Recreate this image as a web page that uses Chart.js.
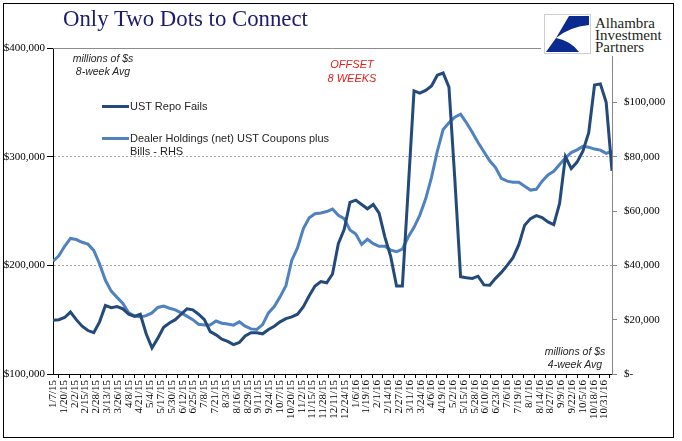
<!DOCTYPE html>
<html>
<head>
<meta charset="utf-8">
<script src="https://cdn.jsdelivr.net/npm/chart.js@4.4.0/dist/chart.umd.min.js"></script>
<style>
  body { margin: 0; background: #fff; }
  #wrap { position: relative; width: 682px; height: 441px; overflow: hidden; background: #fff; }
  canvas { position: absolute; left: 0; top: 0; }
  #frame { position: absolute; left: 3px; top: 3px; width: 669px; height: 433px; border: 1px solid #000; pointer-events: none; }
  .t { position: absolute; white-space: nowrap; }
  #title { left: 63px; top: 8px; font: 22.8px/22px "Liberation Serif", serif; color: #1b1b6f; }
  #logo { left: 541px; top: 11px; width: 131px; height: 45px; background: #fff; }
  #logoBox { position: absolute; left: 3px; top: 3px; width: 45px; height: 38px; border: 1px solid #cfcfcf; }
  #logoText { position: absolute; left: 54px; top: 6px; font: 15px/12px "Liberation Serif", serif; color: #231f20; }
  .note { font: italic 10.5px/13px "Liberation Sans", sans-serif; color: #262626; text-align: center; }
  #offset { font: italic 11px/14px "Liberation Sans", sans-serif; color: #e0201b; text-align: center; }
  .leg { font: 11px/13px "Liberation Sans", sans-serif; color: #1f1f1f; }
  .swatch { position: absolute; width: 27px; height: 3px; }
</style>
</head>
<body>
<div id="wrap">
  <canvas id="c" width="682" height="441"></canvas>
  <div class="t" id="title">Only Two Dots to Connect</div>
  <div class="t note" style="left:63px; top:52px; width:80px;">millions of $s<br>8-week Avg</div>
  <div class="t" id="offset" style="left:312px; top:57px; width:80px;">OFFSET<br>8 WEEKS</div>
  <div class="t note" style="left:535px; top:345px; width:80px;">millions of $s<br>4-week Avg</div>
  <div class="swatch" id="sw1" style="left:102px; top:105px;"></div>
  <div class="t leg" style="left:130px; top:100px;">UST Repo Fails</div>
  <div class="swatch" id="sw2" style="left:102px; top:137px;"></div>
  <div class="t leg" style="left:130px; top:132px;">Dealer Holdings (net) UST Coupons plus<br>Bills - RHS</div>
  <div class="t" id="logo">
    <div id="logoBox">
      <svg width="45" height="38" viewBox="0 0 45 38">
        <path d="M24,1 L44,1 L44,10 Q24,12 11,23 Z" fill="#0b2a8f"/>
        <path d="M11,23 Q26,26 34,37 L1,37 Z" fill="#0b2a8f"/>
      </svg>
    </div>
    <div id="logoText">Alhambra<br>Investment<br>Partners</div>
  </div>
  <div id="frame"></div>
</div>
<script>
// weekly series, first point 1/7/15
const repoFails = [149500,150000,152000,157000,150000,144000,140000,138000,148000,163000,
  161000,162000,160000,155000,153000,155000,137000,124000,133000,143000,
  147000,150000,155000,160000,159000,155000,150000,139000,136000,132000,
  130000,127000,129000,135000,138000,138000,137000,141000,144000,148000,
  151000,152600,155000,162000,172000,181000,185000,184000,192000,220000,
  233000,258000,260000,256000,252000,256000,248000,226000,208000,181000,
  181000,270000,360600,358500,361000,365000,375000,377000,364000,280000,
  189500,188500,188000,190000,182000,181700,188000,193500,200000,207000,
  219000,237000,243000,245700,244000,240000,237500,257000,300000,289000,
  295000,305000,322000,366000,367000,350000,287000];

const dealerHoldings = [41500,43500,47000,49900,49500,48500,47800,45500,40500,34500,
  30500,28200,26000,22500,21400,21000,21500,22500,24500,25000,
  24200,23600,22500,21300,20000,18300,18000,18000,19500,18700,
  18400,18000,19200,17600,16600,16400,18200,22500,24800,28400,
  32500,41800,46500,53500,57500,59000,59300,59800,60700,58400,
  57200,53000,51500,47700,49600,48000,47000,47000,45600,45000,
  46000,50400,54000,58500,64500,72400,82000,90000,92500,94500,
  95600,92500,89000,85200,81800,78500,76000,72000,71000,70600,
  70600,69100,67700,68000,71000,73300,74600,77100,79500,81500,
  82500,83800,83500,82800,82400,81200,82000];

const tickLabels = ["1/7/15","1/20/15","2/2/15","2/15/15","2/28/15","3/13/15","3/26/15","4/8/15",
  "4/21/15","5/4/15","5/17/15","5/30/15","6/12/15","6/25/15","7/8/15","7/21/15","8/3/15","8/16/15",
  "8/29/15","9/11/15","9/24/15","10/7/15","10/20/15","11/2/15","11/15/15","11/28/15","12/11/15",
  "12/24/15","1/6/16","1/19/16","2/1/16","2/14/16","2/27/16","3/11/16","3/24/16","4/6/16","4/19/16",
  "5/2/16","5/15/16","5/28/16","6/10/16","6/23/16","7/6/16","7/19/16","8/1/16","8/14/16","8/27/16",
  "9/9/16","9/22/16","10/5/16","10/18/16","10/31/16"];

const leftTicks = [100000, 200000, 300000, 400000];
const rightTicks = [0, 20000, 40000, 60000, 80000, 100000, 120000];

const darkBlue = "#234a7a";
const lightBlue = "#4f82be";
document.getElementById("sw1").style.background = darkBlue;
document.getElementById("sw2").style.background = lightBlue;

// x is days since 1/7/15; labels every 13 days, tick marks between them
const lastDay = (repoFails.length - 1) * 7;
const labelAt = new Map(tickLabels.map((t, i) => [i * 13, t]));
const xTicks = [];
tickLabels.forEach((t, i) => {
  if (i * 13 - 6.5 >= 0) xTicks.push(i * 13 - 6.5);
  xTicks.push(i * 13);
});
if (tickLabels.length * 13 - 6.5 <= lastDay) xTicks.push(tickLabels.length * 13 - 6.5);

const money = v => "$" + v.toLocaleString("en-US");

const topLine = {
  id: "topLine",
  beforeDatasetsDraw(chart) {
    const { ctx, chartArea } = chart;
    const y = Math.round(chart.scales.y.getPixelForValue(400000)) + 0.5;
    ctx.save();
    ctx.strokeStyle = "#8c8c8c";
    ctx.lineWidth = 1;
    ctx.beginPath();
    ctx.moveTo(chartArea.left, y);
    ctx.lineTo(chartArea.right, y);
    ctx.stroke();
    ctx.restore();
  }
};

new Chart(document.getElementById("c"), {
  type: "line",
  data: {
    datasets: [
      {
        label: "UST Repo Fails",
        data: repoFails.map((v, i) => ({ x: i * 7, y: v })),
        yAxisID: "y",
        borderColor: darkBlue,
        borderWidth: 3,
        pointRadius: 0,
        tension: 0
      },
      {
        label: "Dealer Holdings (net) UST Coupons plus Bills - RHS",
        data: dealerHoldings.map((v, i) => ({ x: i * 7, y: v })),
        yAxisID: "y1",
        borderColor: lightBlue,
        borderWidth: 3,
        pointRadius: 0,
        tension: 0
      }
    ]
  },
  options: {
    responsive: false,
    animation: false,
    devicePixelRatio: 1,
    layout: { padding: { top: 48, left: 0, right: 0, bottom: 0 } },
    plugins: { legend: { display: false }, tooltip: { enabled: false } },
    scales: {
      x: {
        type: "linear",
        min: 0,
        max: lastDay,
        afterBuildTicks: s => { s.ticks = xTicks.map(v => ({ value: v })); },
        afterFit: s => { s.height = 441 - 374; },
        ticks: {
          autoSkip: false,
          minRotation: 90,
          maxRotation: 90,
          padding: 2,
          color: "#000",
          font: { family: "Liberation Serif", size: 11 },
          callback: v => labelAt.has(v) ? labelAt.get(v) : ""
        },
        grid: {
          drawOnChartArea: false,
          tickLength: 4,
          tickColor: c => (c.tick && labelAt.has(c.tick.value)) ? "rgba(0,0,0,0)" : "#000"
        },
        border: { color: "#000" }
      },
      y: {
        type: "linear",
        position: "left",
        min: leftTicks[0],
        max: leftTicks[leftTicks.length - 1],
        afterBuildTicks: s => { s.ticks = leftTicks.map(v => ({ value: v })); },
        afterFit: s => { s.width = 53; },
        ticks: {
          padding: 2,
          color: "#000",
          font: { family: "Liberation Serif", size: 11 },
          callback: v => money(v)
        },
        grid: {
          color: c => (c.tick && c.tick.value > leftTicks[0] && c.tick.value < leftTicks[leftTicks.length - 1]) ? "#a8a8a8" : "rgba(0,0,0,0)",
          tickColor: "#000",
          tickLength: 6
        },
        border: { color: "#000", dash: [2, 2] }
      },
      y1: {
        type: "linear",
        position: "right",
        min: rightTicks[0],
        max: rightTicks[rightTicks.length - 1],
        afterBuildTicks: s => { s.ticks = rightTicks.map(v => ({ value: v })); },
        afterFit: s => { s.width = 682 - 612; },
        ticks: {
          padding: 7,
          color: "#000",
          font: { family: "Liberation Serif", size: 11 },
          callback: v => v === 0 ? "$-" : (v >= 120000 ? "" : money(v))
        },
        grid: { drawOnChartArea: false, tickColor: "#868686", tickLength: 5 },
        border: { color: "#868686" }
      }
    }
  },
  plugins: [topLine]
});
</script>
</body>
</html>
